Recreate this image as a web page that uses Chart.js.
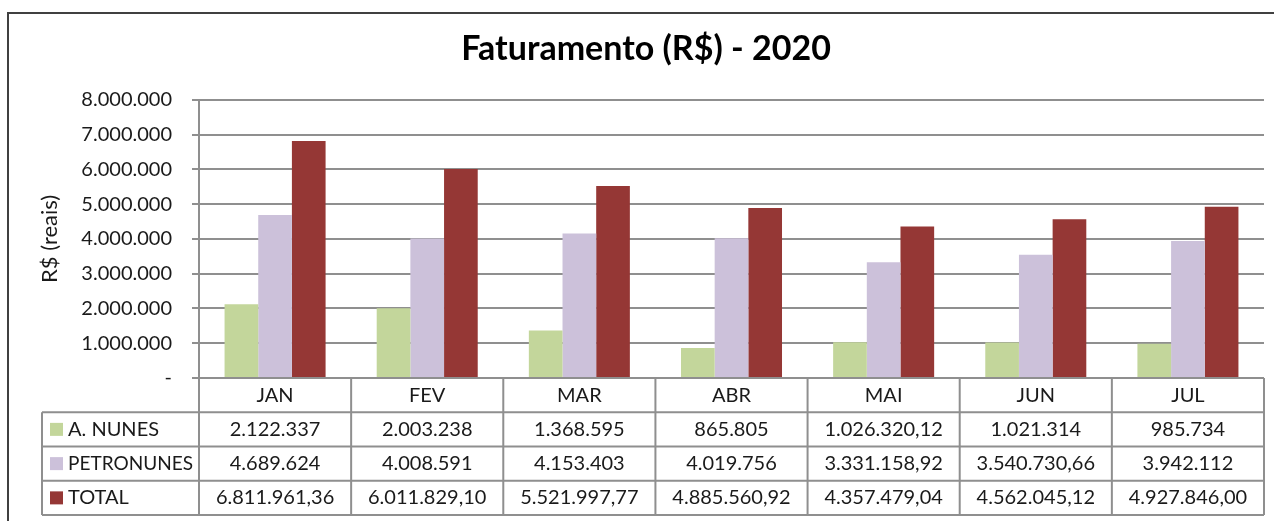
<!DOCTYPE html>
<html>
<head>
<meta charset="utf-8">
<script src="https://cdn.jsdelivr.net/npm/chart.js@4.4.1/dist/chart.umd.min.js"></script>
<style>
  html, body { margin: 0; padding: 0; background: #fff; }
  canvas { display: block; }
</style>
</head>
<body>
<canvas id="chart" width="1274" height="521"></canvas>
<script>
// dados do grafico
const meses = ['JAN', 'FEV', 'MAR', 'ABR', 'MAI', 'JUN', 'JUL'];
const aNunes = [2122337, 2003238, 1368595, 865805, 1026320.12, 1021314, 985734];
const petronunes = [4689624, 4008591, 4153403, 4019756, 3331158.92, 3540730.66, 3942112];
const total = [6811961.36, 6011829.10, 5521997.77, 4885560.92, 4357479.04, 4562045.12, 4927846.00];
const nomesSeries = ['A. NUNES', 'PETRONUNES', 'TOTAL'];
const yMin = 0, yMax = 8000000, yPasso = 1000000;

const cores = ['#c3d69b', '#ccc1da', '#953735'];
const fonte = 'Lato, "Open Sans", sans-serif';

function fmtBR(v, dec) {
    const partes = v.toFixed(dec).split('.');
    partes[0] = partes[0].replace(/\B(?=(\d{3})+(?!\d))/g, '.');
    return partes.join(',');
}

// tabela de dados embaixo do grafico (estilo excel)
const tabelaPlugin = {
    id: 'tabela',
    beforeDraw(chart) {
        const ctx = chart.ctx;
        ctx.save();
        ctx.fillStyle = '#fff';
        ctx.fillRect(0, 0, chart.width, chart.height);
        ctx.strokeStyle = '#404040';
        ctx.lineWidth = 2;
        ctx.strokeRect(8, 13, chart.width + 20, chart.height + 20);
        ctx.restore();
    },
    afterDraw(chart) {
        const { ctx, chartArea, scales } = chart;
        const x = scales.x;
        const esq = chartArea.left, dir = chartArea.right;
        const larg = (dir - esq) / meses.length;
        const topo = chartArea.bottom;
        const alt = 34.25;
        const esqLegenda = 42;
        const fundo = topo + alt * 4;
        const linhas = [aNunes, petronunes, total];

        ctx.save();
        ctx.strokeStyle = '#8f8f8f';
        ctx.lineWidth = 2;
        ctx.beginPath();
        ctx.moveTo(esq, topo);
        ctx.lineTo(dir, topo);
        for (let k = 1; k <= 4; k++) {
            ctx.moveTo(esqLegenda, topo + alt * k);
            ctx.lineTo(dir, topo + alt * k);
        }
        for (let i = 0; i <= meses.length; i++) {
            ctx.moveTo(esq + larg * i, topo);
            ctx.lineTo(esq + larg * i, fundo);
        }
        ctx.moveTo(esqLegenda, topo + alt);
        ctx.lineTo(esqLegenda, fundo);
        ctx.stroke();

        ctx.fillStyle = '#1a1a1a';
        ctx.font = '20px ' + fonte;
        ctx.textBaseline = 'middle';
        ctx.textAlign = 'center';
        meses.forEach((m, i) => {
            ctx.fillText(m, x.getPixelForValue(i), topo + alt / 2);
        });

        linhas.forEach((serie, s) => {
            const yc = topo + alt * (s + 1) + alt / 2;
            ctx.fillStyle = cores[s];
            ctx.fillRect(50, yc - 6.5, 13, 13);
            ctx.fillStyle = '#1a1a1a';
            ctx.textAlign = 'left';
            ctx.fillText(nomesSeries[s], 68, yc, 125);
            ctx.textAlign = 'center';
            serie.forEach((v, i) => {
                const dec = (s === 2 || v % 1 !== 0) ? 2 : 0;
                ctx.fillText(fmtBR(v, dec), x.getPixelForValue(i), yc);
            });
        });
        ctx.restore();
    }
};

const chart = new Chart(document.getElementById('chart'), {
    type: 'bar',
    data: {
        labels: meses,
        datasets: [
            { label: nomesSeries[0], data: aNunes, backgroundColor: cores[0] },
            { label: nomesSeries[1], data: petronunes, backgroundColor: cores[1] },
            { label: nomesSeries[2], data: total, backgroundColor: cores[2] }
        ]
    },
    options: {
        responsive: false,
        animation: false,
        devicePixelRatio: 1,
        layout: {
            padding: { left: 28, right: 10, top: 13, bottom: 143 }
        },
        datasets: {
            bar: { categoryPercentage: 0.664, barPercentage: 1, borderWidth: 0 }
        },
        plugins: {
            legend: { display: false },
            tooltip: { enabled: false },
            title: {
                display: true,
                text: 'Faturamento (R$) - 2020',
                color: '#000',
                font: { family: fonte, size: 34, weight: 'bold' },
                padding: { top: 16, bottom: 30 }
            }
        },
        scales: {
            x: { display: false },
            y: {
                min: yMin,
                max: yMax,
                afterFit(scale) { scale.width = 171; },
                ticks: {
                    stepSize: yPasso,
                    padding: 20,
                    color: '#1a1a1a',
                    font: { family: fonte, size: 20 },
                    callback: v => v === 0 ? '-' : fmtBR(v, 0)
                },
                grid: { color: '#8f8f8f', lineWidth: 2, tickLength: 7 },
                border: { color: '#8f8f8f', width: 2 },
                title: {
                    display: true,
                    text: 'R$ (reais)',
                    color: '#1a1a1a',
                    font: { family: fonte, size: 22 },
                    padding: { top: 9, bottom: 0 }
                }
            }
        }
    },
    plugins: [tabelaPlugin]
});
</script>
</body>
</html>
